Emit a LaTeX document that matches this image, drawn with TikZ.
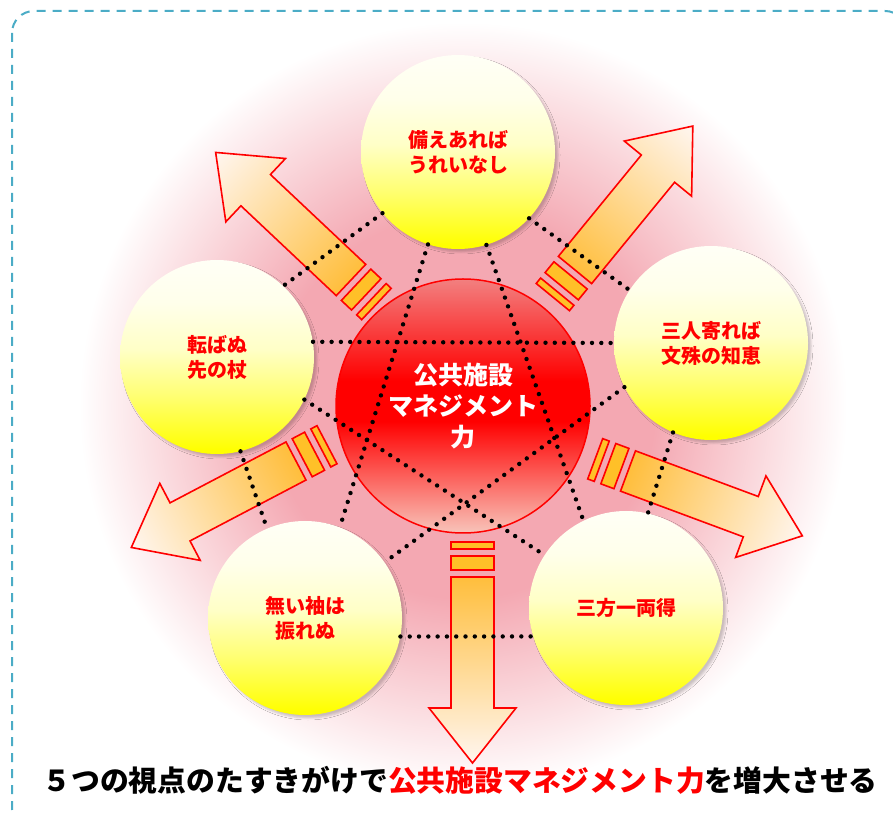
\documentclass[tikz,border=0pt]{standalone}
\usepackage{fontspec}
\newfontfamily\jp{Noto Sans CJK JP}
\usetikzlibrary{shadows.blur}
\usepackage{xcolor}

\definecolor{glowpink}{RGB}{244,168,178}
\definecolor{frameblue}{RGB}{75,172,198}
\definecolor{tailorange}{RGB}{255,190,60}
\definecolor{tippale}{RGB}{255,246,240}
\definecolor{stripeorange}{RGB}{255,192,40}
\definecolor{balltop}{RGB}{242,128,128}
\definecolor{ballbot}{RGB}{248,196,186}
\definecolor{ivory}{RGB}{255,255,246}

\pgfdeclareradialshading{glow}{\pgfpoint{0bp}{0bp}}{color(0bp)=(glowpink);
  color(12bp)=(glowpink); color(24bp)=(white); color(50bp)=(white)}
\pgfdeclareverticalshading{redball}{100bp}{color(0bp)=(ballbot);
  color(25bp)=(ballbot); color(47bp)=(red); color(55bp)=(red);
  color(75bp)=(balltop); color(100bp)=(balltop)}
\pgfdeclareverticalshading{yellowball}{100bp}{color(0bp)=(yellow);
  color(26bp)=(yellow); color(40bp)=(yellow!55!white);
  color(52bp)=(yellow!22!white); color(64bp)=(yellow!8!white);
  color(75bp)=(ivory); color(100bp)=(ivory)}

\tikzset{
  pics/bigarrow/.style={code={%
    \draw [stripe] (-35,-21.5) rectangle (-28,21.5);
    \draw [stripe] (-21,-21.5) rectangle (-7,21.5);
    \draw [shaft] (0,-21.5) -- (131,-21.5) -- (131,-43.5) -- (186,0)
      -- (131,43.5) -- (131,21.5) -- (0,21.5) -- cycle;
  }},
}

\begin{document}
\begin{tikzpicture}[x=1pt,y=1pt,
  every node/.style={align=center,inner sep=0pt},%
  idea/.style={circle,minimum size=194pt,shade,shading=yellowball,text=red,%
    font=\jp\bfseries\fontsize{20}{25}\selectfont,%
    blur shadow={shadow xshift=3pt,shadow yshift=-3pt,%
      shadow blur radius=2pt,shadow opacity=20}},%
  core/.style={circle,minimum size=254pt,draw=red,line width=1.5pt,%
    shade,shading=redball,text=white,%
    font=\jp\bfseries\fontsize{25}{31}\selectfont},%
  dt/.style={dash pattern=on 0pt off 9.3pt,line cap=round,line width=4.4pt},%
  stripe/.style={draw=red,line width=1.6pt,fill=stripeorange},%
  shaft/.style={draw=red,line width=1.6pt,left color=tailorange,%
    right color=tippale},%
  frame/.style={draw=frameblue,line width=2pt,dash pattern=on 9pt off 7pt,%
    rounded corners=22pt},%
  ]
  \useasboundingbox (0,0) rectangle (893,814);

  % glow behind everything
  \shade [shading=glow] (463,408) circle (400);

  % arrows going out
  \pic [transform canvas={shift={(351,534)},rotate=136.7}] {bigarrow};
  \pic [transform canvas={shift={(575,544)},rotate=50.7}] {bigarrow};
  \pic [transform canvas={shift={(296,353)},rotate=207.7}] {bigarrow};
  \pic [transform canvas={shift={(472.5,237)},rotate=-90}] {bigarrow};
  \pic [transform canvas={shift={(628,343)},rotate=-20.4}] {bigarrow};

  \node (core) [core] at (463,408) {公共施設\\マネジメント\\力};

  \node (sonae) [idea] at (458,662) {備えあれば\\うれいなし};
  \node (korobanu) [idea] at (217,457) {転ばぬ\\先の杖};
  \node (sannin) [idea] at (711,471) {三人寄れば\\文殊の知恵};
  \node (naisode) [idea] at (305,196) {無い袖は\\振れぬ};
  \node (sanpou) [idea] at (626,206) {三方一両得};

  % pentagon
  \draw [dt] (sonae.219) -- (korobanu.47);
  \draw [dt] (sonae.317) -- (sannin.147);
  \draw [dt] (korobanu.284) -- (naisode.113);
  \draw [dt] (sannin.247) -- (sanpou.77);
  \draw [dt] (naisode.349) -- (sanpou.197);
  % star
  \draw [dt] (sonae.252) -- (naisode.69);
  \draw [dt] (sonae.287) -- (sanpou.116);
  \draw [dt] (korobanu.9) -- (sannin.180);
  \draw [dt] (korobanu.334) -- (sanpou.147);
  \draw [dt] (sannin.207) -- (naisode.35);

  \node (motto) [font=\jp\bfseries\fontsize{28.8}{32}\selectfont] at (460,34)
    {５つの視点のたすきがけで\textcolor{red}{公共施設マネジメント力}を増大させる};

  \draw [frame] (12,803) rectangle (907,-16);
\end{tikzpicture}
\end{document}
